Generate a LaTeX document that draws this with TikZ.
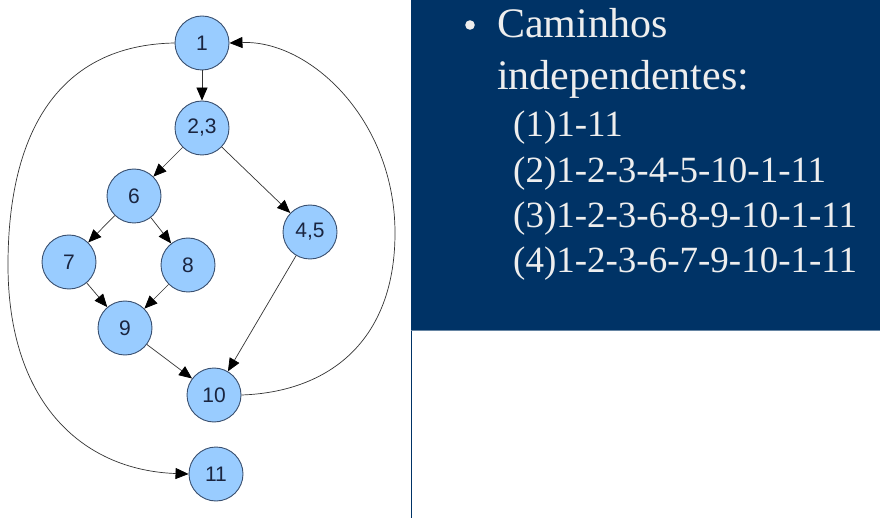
\documentclass[tikz,border=0pt]{standalone}
\usepackage{fontspec}
\setmainfont{Liberation Serif}
\newfontfamily\nodefont{Liberation Sans}
\usetikzlibrary{arrows.meta}
\definecolor{navy}{HTML}{003366}
\definecolor{nodefill}{HTML}{99CCFF}
\definecolor{nodeline}{HTML}{3A5070}
\definecolor{nodetext}{HTML}{1A2540}
\definecolor{txt}{HTML}{EEEEEE}
\definecolor{edge}{HTML}{333333}
\begin{document}
\begin{tikzpicture}[x=1pt,y=-1pt,
  vtx/.style={circle,draw=nodeline,line width=0.9pt,fill=nodefill,minimum size=54pt,inner sep=0pt,
    font=\nodefont\fontsize{21}{24}\selectfont,text=nodetext},
  edgearrow/.style={draw=edge,line width=0.7pt,-{Triangle[length=13pt,width=11pt,color=black]}},
  bigtxt/.style={anchor=base west,inner sep=0pt,text=txt,font=\fontsize{42}{50}\selectfont},
  smalltxt/.style={anchor=base west,inner sep=0pt,text=txt,font=\fontsize{37}{42}\selectfont}]
\useasboundingbox (0,0) rectangle (880,518);
\fill[white] (0,0) rectangle (880,518);
% right panel
\fill[navy] (411,0) rectangle (880,330);
\draw[navy,line width=1pt] (411,330) -- (411,518);
\draw[navy!60,line width=0.6pt] (411,330) -- (880,330);
\fill[txt] (470,25) circle (4.8);
\node[bigtxt] (tc) at (497,38) {Caminhos};
\node[bigtxt] (ti) at (497,90) {independentes:};
\node[smalltxt] (p1) at (513,137) {(1)1-11};
\node[smalltxt] (p2) at (513,183) {(2)1-2-3-4-5-10-1-11};
\node[smalltxt] (p3) at (513,228) {(3)1-2-3-6-8-9-10-1-11};
\node[smalltxt] (p4) at (513,273) {(4)1-2-3-6-7-9-10-1-11};
% graph nodes
\node[vtx] (n1) at (202,43) {1};
\node[vtx] (n23) at (202,128) {2,3};
\node[vtx] (n6) at (134,196) {6};
\node[vtx] (n45) at (310,232) {4,5};
\node[vtx] (n7) at (69,262) {7};
\node[vtx] (n8) at (188,265) {8};
\node[vtx] (n9) at (125,328) {9};
\node[vtx] (n10) at (214,395) {10};
\node[vtx] (n11) at (216,474) {11};
\coordinate (rmid) at (395,233);
\coordinate (lmid) at (8,265);
% edges
\draw[edgearrow] (n1) -- (n23);
\draw[edgearrow] (n23) -- (n6);
\draw[edgearrow] (n23) -- (n45);
\draw[edgearrow] (n6) -- (n7);
\draw[edgearrow] (n6) -- (n8);
\draw[edgearrow] (n7) -- (n9);
\draw[edgearrow] (n8) -- (n9);
\draw[edgearrow] (n9) -- (n10);
\draw[edgearrow] (n45) -- (n10);
\draw[edgearrow] (n10.east) .. controls (330,392) and (395,340) .. (rmid)
  .. controls (395,120) and (310,40) .. (n1.east);
\draw[edgearrow] (n1.west) .. controls (60,45) and (8,130) .. (lmid)
  .. controls (8,400) and (80,470) .. (n11.west);
\end{tikzpicture}
\end{document}
